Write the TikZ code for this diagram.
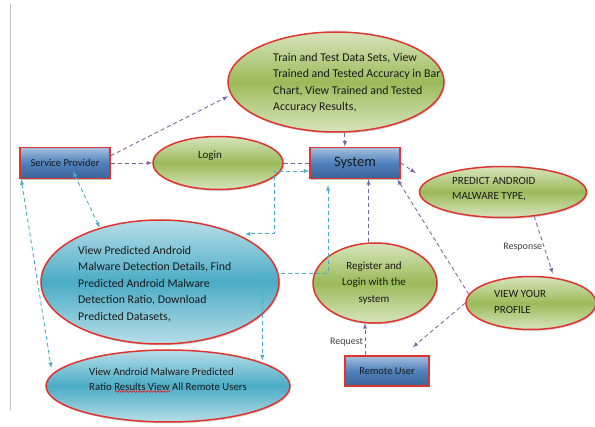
\documentclass[tikz,border=0pt]{standalone}
\usepackage{fontspec}
\setmainfont{Carlito}
\usepackage{xcolor}
\usetikzlibrary{shapes,arrows,positioning,shadows,decorations.pathmorphing}

\definecolor{ringred}{RGB}{222,52,48}
\definecolor{leafhi}{RGB}{215,228,189}
\definecolor{leaf}{RGB}{155,187,89}
\definecolor{seahi}{RGB}{183,222,232}
\definecolor{sea}{RGB}{75,172,198}
\definecolor{skyhi}{RGB}{167,191,222}
\definecolor{sky}{RGB}{79,129,189}
\definecolor{skylo}{RGB}{58,100,151}
\definecolor{flowc}{RGB}{128,100,162}
\definecolor{linkc}{RGB}{75,172,198}

\begin{document}
\begin{tikzpicture}[
    x=1pt, y=-1pt,
    >=latex,
    box/.style={rectangle, draw=ringred, line width=1.5pt, top color=skyhi, bottom color=skylo, middle color=sky,
        minimum width=90pt, minimum height=31pt, font=\fontsize{10.5}{12}\selectfont, text=black!90,
        drop shadow={shadow xshift=1pt, shadow yshift=-1.5pt, opacity=.5}},
    gnode/.style={ellipse, draw=ringred, line width=1.5pt, top color=leafhi, bottom color=leafhi, middle color=leaf,
        inner sep=0pt, drop shadow={shadow xshift=1pt, shadow yshift=-1.5pt, opacity=.35}},
    bnode/.style={ellipse, draw=ringred, line width=1.5pt, top color=seahi, bottom color=seahi, middle color=sea,
        inner sep=0pt, drop shadow={shadow xshift=1pt, shadow yshift=-1.5pt, opacity=.35}},
    txt/.style={align=left, inner sep=0pt, text=black!90, font=\fontsize{11}{16.5}\selectfont},
    lbl/.style={font=\fontsize{10}{12}\selectfont, text=black!75, inner sep=1.5pt},
    flow/.style={->, flowc, line width=0.9pt, dash pattern=on 4pt off 3pt},
    link/.style={->, linkc, line width=0.9pt, dash pattern=on 4pt off 3pt}
]
\useasboundingbox (0,0) rectangle (595,427);
\draw[black!25, line width=0.8pt] (10,4) -- (10,410);

% actors
\node[box] (prov) at (65,163) {Service Provider};
\node[box, font=\fontsize{14.5}{16}\selectfont] (sys) at (355,163) {System};
\node[box, minimum width=84pt, minimum height=30pt] (user) at (387,371) {Remote User};

% bubbles
\node[gnode, minimum width=216pt, minimum height=100pt] (train) at (336,82) {};
\node[gnode, minimum width=130pt, minimum height=53pt] (login) at (218,163) {};
\node[gnode, minimum width=167pt, minimum height=51pt] (pred) at (503,192) {};
\node[gnode, minimum width=124pt, minimum height=80pt] (reg) at (375,283) {};
\node[gnode, minimum width=130pt, minimum height=53pt] (prof) at (531,303) {};
\node[bnode, minimum width=238pt, minimum height=124pt] (detect) at (160,282) {};
\node[bnode, minimum width=244pt, minimum height=72pt] (ratio) at (168,386) {};

% texts
\node[txt, anchor=west, font=\fontsize{11.9}{16.4}\selectfont] (train-t) at (273,83)
    {Train and Test Data Sets, View\\Trained and Tested Accuracy in Bar\\Chart, View Trained and Tested\\Accuracy Results,};
\node[txt] (login-t) at (210,156) {Login};
\node[txt, anchor=west, font=\fontsize{11}{15}\selectfont] (pred-t) at (452,189) {PREDICT ANDROID\\MALWARE TYPE,};
\node[txt, align=center] (reg-t) at (374,283) {Register and\\Login with the\\system};
\node[txt, anchor=west, font=\fontsize{11}{16}\selectfont] (prof-t) at (494,302) {VIEW YOUR\\PROFILE};
\node[txt, anchor=west, font=\fontsize{11.8}{16.5}\selectfont] (detect-t) at (78,284)
    {View Predicted Android\\Malware Detection Details, Find\\Predicted Android Malware\\Detection Ratio, Download\\Predicted Datasets,};
\node[txt, anchor=west, font=\fontsize{10.8}{15}\selectfont] (ratio-t) at (89,379)
    {View Android Malware Predicted\\Ratio Results View All Remote Users};
\draw[red, line width=0.6pt, decorate, decoration={snake, amplitude=0.9pt, segment length=3.5pt}] (115,391.5) -- (170,391.5);

% provider side
\draw[flow, shorten >=3pt] (prov.9) -- (train.187);
\draw[flow] (prov.east) -- (login.west);
\draw[flow, -] (login.east) -- (sys.west);
\draw[link, <->] ([xshift=8pt,yshift=8pt]prov.south) -- (detect.138);
\draw[link, <->, shorten >=6pt] ([xshift=2pt]prov.south west) -- (ratio.174);

% system side
\draw[flow] (train.280) -- (train.280 |- sys.north);
\draw[flow] (sys.east) -- ([xshift=-3pt,yshift=19pt]pred.west);
\draw[flow, shorten >=4pt] (pred.-38) -- node[lbl, left] (resp) {Response} (prof.48);
\draw[flow] (prof.west) -- ([xshift=-17pt,yshift=8pt]user.north east);
\draw[flow] (prof.172) -- (sys.-21);
\draw[flow] (reg.99) -- (reg.99 |- sys.south);
\draw[flow] (reg.256 |- user.north) -- node[lbl, left, pos=0.4] (req) {Request} (reg.256);
\draw[link, <->, shorten <=6pt, shorten >=2pt] ([xshift=-27pt]sys.south) -- ++(0,94) -| (ratio.14);
\draw[link, <->, shorten >=8pt] ([yshift=-8pt]sys.west) -- ++(-35,0) |- (detect.32);
\end{tikzpicture}
\end{document}
